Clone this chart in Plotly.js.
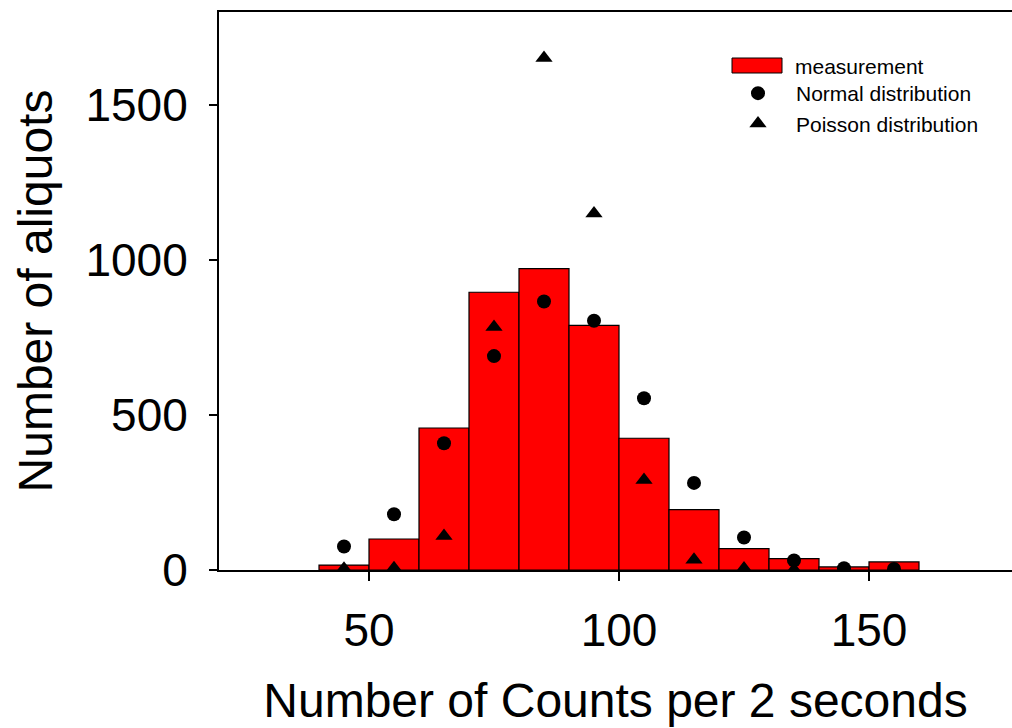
<!DOCTYPE html>
<html>
<head>
<meta charset="utf-8">
<script src="https://cdn.plot.ly/plotly-3.0.1.min.js"></script>
<style>html,body{margin:0;padding:0;background:#fff;}#chart{width:1012px;height:728px;}</style>
</head>
<body>
<div id="chart"></div>
<script>
// Bin centres (counts per 2 s), bin width 10
const binCenters = [45, 55, 65, 75, 85, 95, 105, 115, 125, 135, 145, 155];
const measurement = [16, 100, 458, 896, 972, 789, 425, 195, 69, 37, 10, 26];
const normalDist = [76, 180, 409, 690, 866, 804, 554, 281, 105, 31, 6, 3];
const poissonCenters = [45, 55, 65, 75, 85, 95, 105, 115, 125, 135];
const poissonDist = [4, 6, 110, 784, 1652, 1150, 290, 33, 5, 1];
const xTicks = [50, 100, 150];
const yTicks = [0, 500, 1000, 1500];
const legendLabels = ['measurement', 'Normal distribution', 'Poisson distribution'];

const FONT = 'Liberation Sans, Arial, sans-serif';
const L = 219, T = 12, PW = 793, PH = 558;
const px = v => (v - L) / PW;          // pixel x -> paper x
const py = v => (T + PH - v) / PH;     // pixel y -> paper y

const traces = [
  {
    type: 'bar', x: binCenters, y: measurement, width: 10,
    name: legendLabels[0], showlegend: false,
    marker: {color: '#ff0000', line: {color: '#000', width: 1.2}}
  },
  {
    type: 'scatter', mode: 'markers', x: binCenters, y: normalDist,
    name: legendLabels[1],
    marker: {symbol: 'circle', size: 14, color: '#000'}
  },
  {
    type: 'scatter', mode: 'markers', x: poissonCenters, y: poissonDist,
    name: legendLabels[2],
    marker: {symbol: 'triangle-up', size: 15, color: '#000'}
  }
];

const layout = {
  width: 1012, height: 728,
  margin: {l: L, r: 0, t: T, b: 158},
  paper_bgcolor: '#fff', plot_bgcolor: '#fff',
  bargap: 0,
  font: {family: FONT, color: '#000'},
  xaxis: {
    range: [20, 178.6], tickvals: xTicks, ticktext: xTicks.map(String),
    showgrid: false, zeroline: false,
    showline: true, linecolor: '#000', linewidth: 2, mirror: true,
    ticks: 'outside', ticklen: 9, tickwidth: 2, tickcolor: '#000',
    tickfont: {size: 46, family: FONT, color: '#000'},
    ticklabelstandoff: 10,
    title: {text: 'Number of Counts per 2 seconds', font: {size: 48, family: FONT, color: '#000'}, standoff: 28},
    automargin: false
  },
  yaxis: {
    range: [0, 1800], tickvals: yTicks, ticktext: yTicks.map(String),
    showgrid: false, zeroline: false,
    showline: true, linecolor: '#000', linewidth: 2, mirror: false,
    ticks: 'outside', ticklen: 8, tickwidth: 2, tickcolor: '#000',
    tickfont: {size: 46, family: FONT, color: '#000'},
    ticklabelstandoff: 12,
    title: {text: 'Number of aliquots', font: {size: 48, family: FONT, color: '#000'}, standoff: 18},
    automargin: false
  },
  showlegend: true,
  legend: {
    x: px(720), xref: 'paper', xanchor: 'left',
    y: py(73), yanchor: 'top',
    itemwidth: 66,
    font: {size: 21, family: FONT, color: '#000'},
    bgcolor: 'rgba(0,0,0,0)', borderwidth: 0,
    tracegroupgap: 0
  },
  shapes: [
    {type: 'rect', xref: 'paper', yref: 'paper',
     x0: px(732), x1: px(782), y0: py(73), y1: py(58),
     fillcolor: '#ff0000', line: {color: '#000', width: 1}}
  ],
  annotations: [
    {xref: 'paper', yref: 'paper', x: px(793), y: py(66),
     xanchor: 'left', yanchor: 'middle', showarrow: false,
     text: legendLabels[0], font: {size: 21, family: FONT, color: '#000'}}
  ]
};

Plotly.newPlot('chart', traces, layout, {displayModeBar: false, staticPlot: true});
</script>
</body>
</html>
